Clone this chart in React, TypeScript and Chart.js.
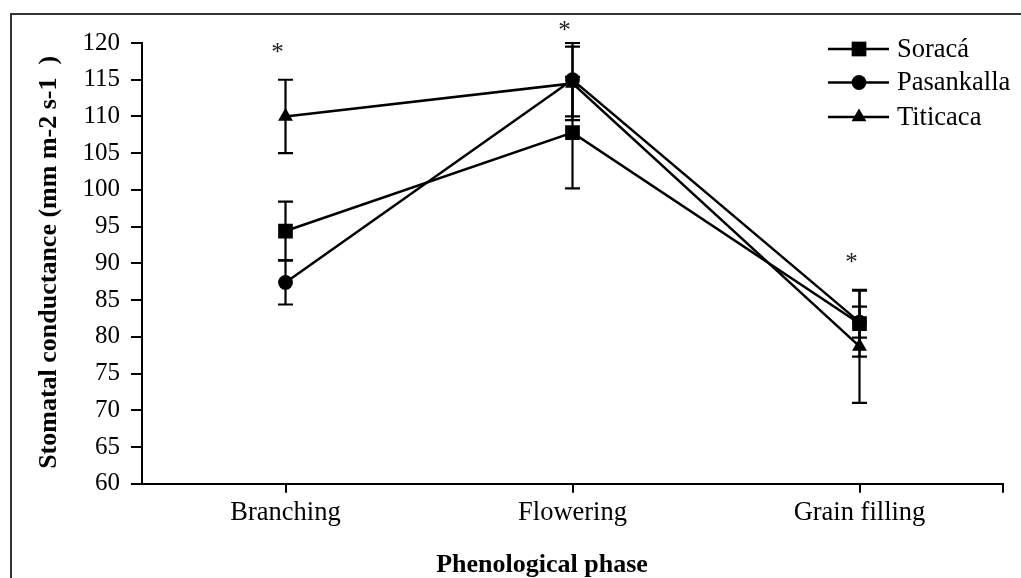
import React, { useEffect, useRef } from "react";
import { Chart, registerables } from "chart.js";

Chart.register(...registerables);

const categories = ["Branching", "Flowering", "Grain filling"];
const seriesNames = ["Soracá", "Pasankalla", "Titicaca"];
const soracaValues = [94.4, 107.8, 81.8];
const soracaErrors = [4.0, 7.6, 4.5];
const pasankallaValues = [87.4, 115.0, 82.0];
const pasankallaErrors = [3.0, 5.0, 2.1];
const titicacaValues = [110.0, 114.5, 78.7];
const titicacaErrors = [5.0, 5.0, 7.7];
const asteriskValues = [119.1, 122.0, 90.5];
const yTicks = [60, 65, 70, 75, 80, 85, 90, 95, 100, 105, 110, 115, 120];
const yTitle = "Stomatal conductance (mm m-2 s-1  )";
const xTitle = "Phenological phase";

const SERIF = "'Liberation Serif', 'Times New Roman', serif";

const seriesValues = [soracaValues, pasankallaValues, titicacaValues];
const seriesErrors = [soracaErrors, pasankallaErrors, titicacaErrors];
const pointStyles = ["rect", "circle", "triangle"];
const pointRadii = [10.4, 7.4, 8.6];
const drawOrder = [1, 0, 2];

function drawMarker(ctx: CanvasRenderingContext2D, style: string, x: number, y: number, r: number) {
  ctx.beginPath();
  if (style === "rect") {
    const s = Math.SQRT1_2 * r;
    ctx.rect(x - s, y - s, 2 * s, 2 * s);
  } else if (style === "circle") {
    ctx.arc(x, y, r, 0, Math.PI * 2);
  } else {
    for (let k = 0; k < 3; k++) {
      const a = (k * 2 * Math.PI) / 3;
      const px = x + Math.sin(a) * r;
      const py = y - Math.cos(a) * r;
      if (k === 0) ctx.moveTo(px, py);
      else ctx.lineTo(px, py);
    }
    ctx.closePath();
  }
  ctx.fillStyle = "#000";
  ctx.fill();
}

const customPlugin = {
  id: "customDecor",
  beforeDraw(chart: any) {
    const ctx = chart.ctx;
    ctx.save();
    ctx.fillStyle = "#fff";
    ctx.fillRect(0, 0, chart.width, chart.height);
    ctx.strokeStyle = "#333";
    ctx.lineWidth = 2;
    ctx.strokeRect(11, 14, 3000, 3000);
    ctx.restore();
  },
  beforeDatasetsDraw(chart: any) {
    const ctx = chart.ctx;
    const xs = chart.scales.x;
    const ys = chart.scales.y;
    ctx.save();
    ctx.strokeStyle = "#000";
    ctx.lineWidth = 2.2;
    seriesValues.forEach((vals, i) => {
      vals.forEach((v, j) => {
        const e = seriesErrors[i][j];
        const x = xs.getPixelForValue(j);
        const yt = ys.getPixelForValue(v + e);
        const yb = ys.getPixelForValue(v - e);
        ctx.beginPath();
        ctx.moveTo(x, yt);
        ctx.lineTo(x, yb);
        ctx.moveTo(x - 7.5, yt);
        ctx.lineTo(x + 7.5, yt);
        ctx.moveTo(x - 7.5, yb);
        ctx.lineTo(x + 7.5, yb);
        ctx.stroke();
      });
    });
    ctx.restore();
  },
  afterDraw(chart: any) {
    const ctx = chart.ctx;
    const xs = chart.scales.x;
    const ys = chart.scales.y;
    const area = chart.chartArea;
    ctx.save();
    // right end tick on x axis
    ctx.strokeStyle = "#000";
    ctx.lineWidth = 2;
    ctx.beginPath();
    ctx.moveTo(area.right, area.bottom);
    ctx.lineTo(area.right, area.bottom + 9);
    ctx.stroke();

    // asterisks
    ctx.fillStyle = "#222";
    ctx.font = `25px ${SERIF}`;
    ctx.textAlign = "center";
    ctx.textBaseline = "alphabetic";
    asteriskValues.forEach((v, j) => {
      const x = xs.getPixelForValue(j) - 8;
      const y = ys.getPixelForValue(v) + 10;
      ctx.fillText("*", x, y);
    });

    // legend
    const rowY = [area.top + 6, area.top + 39.5, area.top + 74];
    ctx.font = `26.5px ${SERIF}`;
    ctx.textAlign = "left";
    ctx.textBaseline = "middle";
    seriesNames.forEach((name, i) => {
      const y = rowY[i];
      ctx.strokeStyle = "#000";
      ctx.lineWidth = 2.5;
      ctx.beginPath();
      ctx.moveTo(area.right - 175, y);
      ctx.lineTo(area.right - 114, y);
      ctx.stroke();
      drawMarker(ctx, pointStyles[i], area.right - 144, y, pointRadii[i]);
      ctx.fillStyle = "#000";
      ctx.fillText(name, area.right - 106, y + 1);
    });

    // axis titles
    ctx.fillStyle = "#000";
    ctx.font = `bold 26px ${SERIF}`;
    ctx.textAlign = "center";
    ctx.textBaseline = "alphabetic";
    ctx.fillText(xTitle, 542, 572);
    ctx.translate(56, (area.top + area.bottom) / 2 - 1);
    ctx.rotate(-Math.PI / 2);
    ctx.fillText(yTitle, 0, 0);
    ctx.restore();
  },
};

export default function App() {
  const canvasRef = useRef<HTMLCanvasElement | null>(null);

  useEffect(() => {
    if (!canvasRef.current) return;
    const datasets = seriesNames.map((name, i) => ({
      label: name,
      data: seriesValues[i],
      borderColor: "#000",
      borderWidth: 2.5,
      backgroundColor: "#000",
      pointStyle: pointStyles[i] as any,
      pointRadius: pointRadii[i],
      pointBackgroundColor: "#000",
      pointBorderColor: "#000",
      pointBorderWidth: 0,
      tension: 0,
      fill: false,
      order: drawOrder[i],
    }));

    const chart = new Chart(canvasRef.current, {
      type: "line",
      data: { labels: categories, datasets },
      options: {
        responsive: false,
        animation: false,
        devicePixelRatio: 1,
        layout: { padding: { top: 43, right: 18, left: 0, bottom: 0 } },
        plugins: {
          legend: { display: false },
          tooltip: { enabled: false },
          title: { display: false },
        },
        scales: {
          x: {
            type: "category",
            offset: true,
            grid: {
              display: true,
              offset: false,
              drawOnChartArea: false,
              drawTicks: true,
              tickLength: 9,
              color: "#000",
              lineWidth: 2,
            },
            border: { display: true, color: "#000", width: 2 },
            ticks: {
              color: "#000",
              font: { family: SERIF, size: 26.5 },
              padding: 4,
              maxRotation: 0,
              autoSkip: false,
            },
            afterFit: (scale: any) => {
              scale.height = 94.3;
            },
          },
          y: {
            min: 60,
            max: 120,
            afterBuildTicks: (scale: any) => {
              scale.ticks = yTicks.map((v) => ({ value: v }));
            },
            grid: {
              display: true,
              drawOnChartArea: false,
              drawTicks: true,
              tickLength: 11,
              color: "#000",
              lineWidth: 2,
            },
            border: { display: true, color: "#000", width: 2 },
            ticks: {
              color: "#000",
              font: { family: SERIF, size: 25 },
              padding: 11,
            },
            afterFit: (scale: any) => {
              scale.width = 142;
            },
          },
        },
      },
      plugins: [customPlugin],
    });
    return () => chart.destroy();
  }, []);

  return (
    <div style={{ position: "fixed", left: 0, top: 0, width: 1021, height: 578, overflow: "hidden", background: "#fff" }}>
      <canvas ref={canvasRef} width={1021} height={578} style={{ display: "block" }} />
    </div>
  );
}
